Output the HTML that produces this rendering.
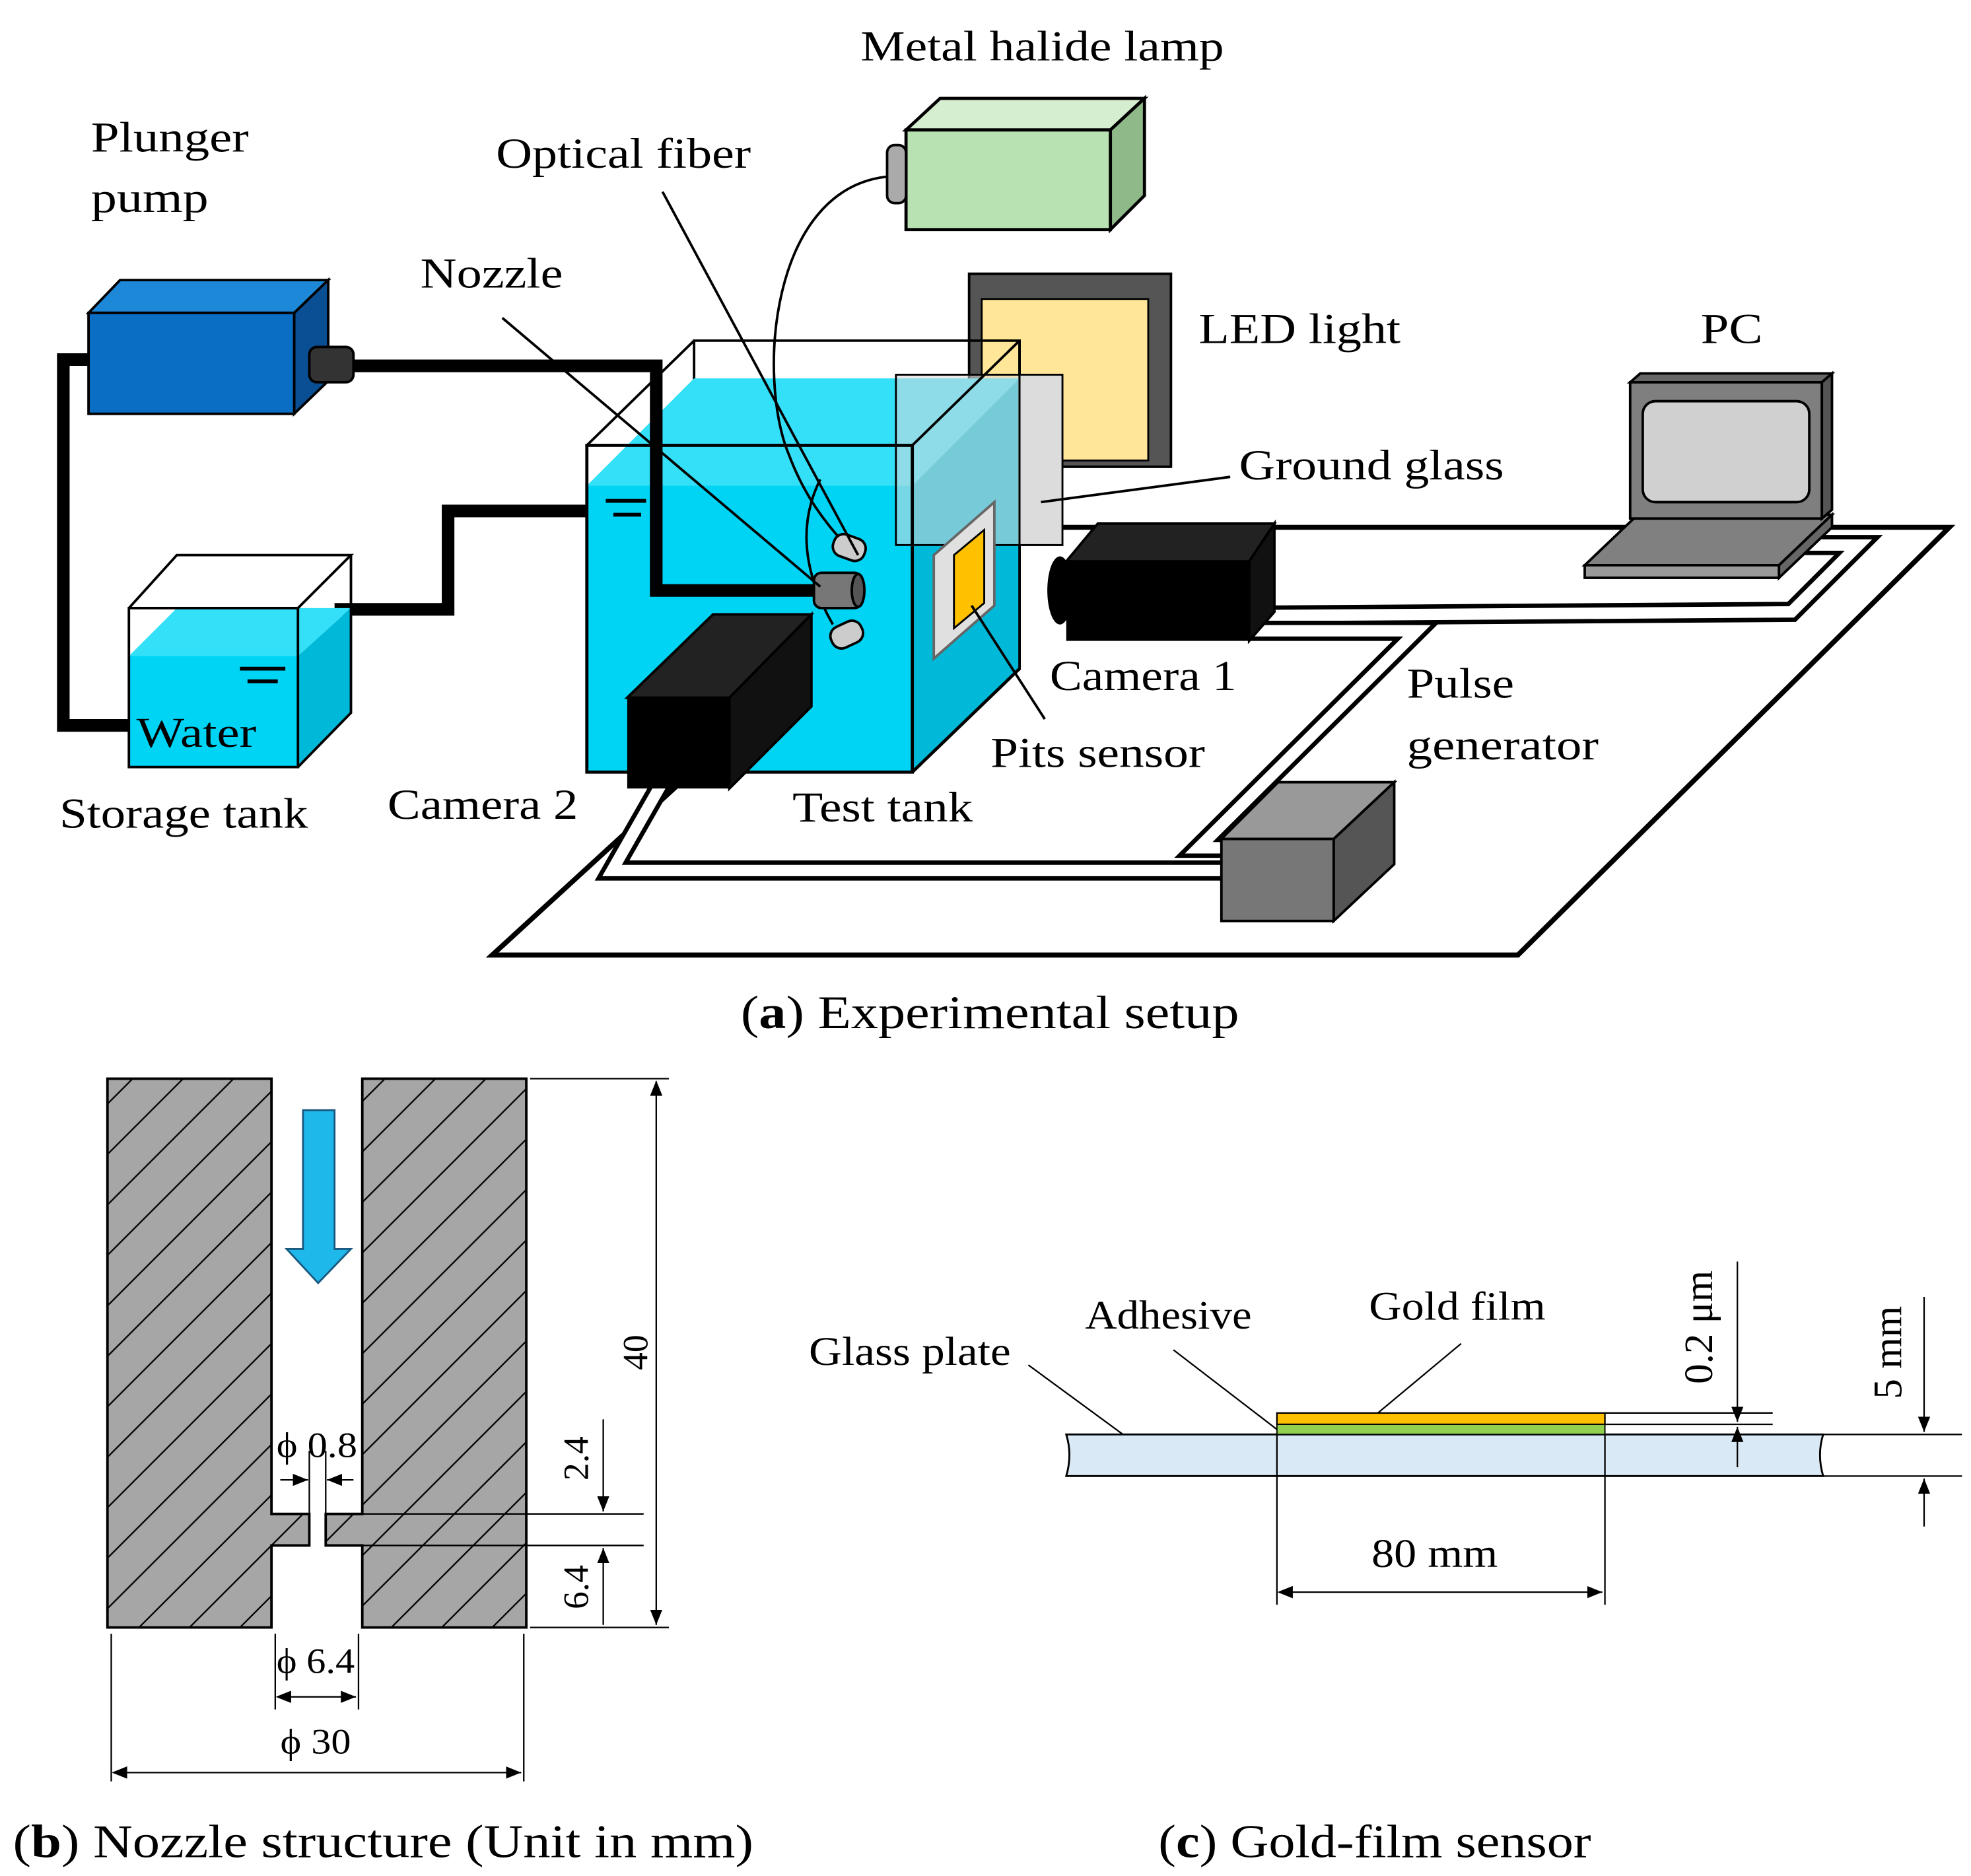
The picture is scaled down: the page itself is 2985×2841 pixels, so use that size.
<!DOCTYPE html>
<html><head><meta charset="utf-8"><style>
html,body{margin:0;padding:0;background:#fff;}
svg{display:block;}
text{font-family:"Liberation Serif",serif;fill:#000;}
</style></head><body>
<svg width="2985" height="2841" viewBox="0 0 1562 1487" xmlns="http://www.w3.org/2000/svg">
<defs>
<pattern id="h" width="40" height="40" patternUnits="userSpaceOnUse">
<rect width="40" height="40" fill="#a6a6a6"/>
<path d="M-10,50 L50,-10 M-10,10 L10,-10 M30,50 L50,30" stroke="#000" stroke-width="1.2"/>
</pattern>
<marker id="ar" markerWidth="10" markerHeight="8" refX="10" refY="4" orient="auto"><path d="M0,0 L10,4 L0,8z" fill="#000"/></marker>
</defs>

<polygon points="390,757 1203,757 1545,418 760,418" fill="#fff" stroke="#000" stroke-width="4"/>
<g fill="none" stroke-linejoin="miter">
<path d="M990,488 L1420,485 L1473,432 L1430,432" stroke="#000" stroke-width="16"/>
<path d="M990,488 L1420,485 L1473,432 L1430,432" stroke="#fff" stroke-width="9"/>
<path d="M990,500 L1123,500 L950,672 L975,672" stroke="#000" stroke-width="16"/>
<path d="M990,500 L1123,500 L950,672 L975,672" stroke="#fff" stroke-width="9"/>
<path d="M525,620 L485,690 L975,690" stroke="#000" stroke-width="16"/>
<path d="M525,620 L485,690 L975,690" stroke="#fff" stroke-width="9"/>
</g>

<!-- PC -->
<polygon points="1256,448 1410,448 1452,408 1298,408" fill="#808080" stroke="#000" stroke-width="2"/>
<rect x="1256" y="448" width="154" height="10" fill="#999" stroke="#000" stroke-width="2"/>
<polygon points="1410,448 1452,408 1452,418 1410,458" fill="#666" stroke="#000" stroke-width="2"/>
<polygon points="1292,303 1300,296 1452,296 1444,303" fill="#666" stroke="#000" stroke-width="2"/>
<rect x="1292" y="303" width="152" height="108" fill="#7f7f7f" stroke="#000" stroke-width="2"/>
<polygon points="1444,303 1452,296 1452,404 1444,411" fill="#555" stroke="#000" stroke-width="2"/>
<rect x="1302" y="318" width="132" height="80" rx="10" fill="#d0d0d0" stroke="#000" stroke-width="2"/>

<!-- Metal halide lamp -->
<polygon points="718,103 745,78 907,78 880,103" fill="#d5eecf" stroke="#000" stroke-width="2.5"/>
<polygon points="880,103 907,78 907,155 880,182" fill="#90b98a" stroke="#000" stroke-width="2.5"/>
<rect x="718" y="103" width="162" height="79" fill="#b9e2b2" stroke="#000" stroke-width="2.5"/>
<rect x="703" y="115" width="15" height="46" rx="6" fill="#aaa" stroke="#000" stroke-width="2"/>

<!-- LED light -->
<rect x="768" y="217" width="160" height="153" fill="#555" stroke="#000" stroke-width="2"/>
<rect x="778" y="237" width="132" height="128" fill="#ffe699" stroke="#000" stroke-width="1.5"/>

<polygon points="550,270 808,270 808,530 550,530" fill="none" stroke="#000" stroke-width="2"/>
<polygon points="465,385 550,300 808,300 808,530 723,612 465,612" fill="#00d4f5"/>
<polygon points="465,385 550,300 808,300 723,385" fill="#33e0f8"/>
<polygon points="723,385 808,300 808,530 723,612" fill="#00b8d8"/>
<line x1="808" y1="270" x2="808" y2="530" stroke="#000" stroke-width="2"/>

<rect x="710" y="297" width="132" height="135" fill="#d9d9d9" fill-opacity="0.55" stroke="#000" stroke-width="1.5"/>
<rect x="808" y="297" width="34" height="135" fill="#dcdcdc" stroke="#000" stroke-width="1.5"/>

<rect x="465" y="353" width="258" height="259" fill="none" stroke="#000" stroke-width="2.5"/>
<line x1="465" y1="353" x2="550" y2="270" stroke="#000" stroke-width="2"/>
<line x1="723" y1="353" x2="808" y2="270" stroke="#000" stroke-width="2"/>
<line x1="723" y1="612" x2="808" y2="530" stroke="#000" stroke-width="2.5"/>
<line x1="480" y1="397" x2="512" y2="397" stroke="#000" stroke-width="3"/>
<line x1="486" y1="408" x2="508" y2="408" stroke="#000" stroke-width="3"/>

<polygon points="740,440 788,398 788,480 740,522" fill="#e0e0e0" stroke="#666" stroke-width="2"/>
<polygon points="756,440 780,420 780,478 756,498" fill="#ffc000" stroke="#000" stroke-width="1.5"/>

<g fill="none" stroke="#000" stroke-width="10">
<path d="M280,290 L520,290 L520,468 L650,468"/>
<path d="M70,285 L50,285 L50,575 L105,575"/>
<path d="M265,483 L355,483 L355,405 L465,405"/>
</g>
<path d="M703,140 C610,150 600,300 625,360 C640,400 660,420 670,432" fill="none" stroke="#000" stroke-width="2"/>
<path d="M650,380 C630,420 640,460 660,495" fill="none" stroke="#000" stroke-width="2"/>
<g stroke="#000" stroke-width="2">
<rect x="660" y="425" width="26" height="18" rx="8" fill="#ccc" transform="rotate(20 673 434)"/>
<rect x="645" y="454" width="38" height="28" rx="6" fill="#777"/>
<ellipse cx="680" cy="468" rx="5" ry="13" fill="#555"/>
<rect x="658" y="494" width="26" height="18" rx="8" fill="#ccc" transform="rotate(-25 671 503)"/>
</g>
<g stroke="#000" stroke-width="2">
<line x1="525" y1="152" x2="680" y2="440"/>
<line x1="398" y1="252" x2="650" y2="465"/>
<line x1="975" y1="378" x2="825" y2="398"/>
<line x1="770" y1="480" x2="828" y2="570"/>
</g>

<!-- Plunger pump -->
<polygon points="70,248 95,222 260,222 233,248" fill="#1e88d8" stroke="#000" stroke-width="2"/>
<polygon points="233,248 260,222 260,302 233,328" fill="#0a4f94" stroke="#000" stroke-width="2"/>
<rect x="70" y="248" width="163" height="80" fill="#0a6fc4" stroke="#000" stroke-width="2"/>
<rect x="245" y="275" width="35" height="28" rx="6" fill="#333" stroke="#000" stroke-width="2"/>

<!-- Storage tank -->
<polygon points="102,520 140,482 278,482 236,520" fill="#33e0f8"/>
<rect x="102" y="520" width="134" height="88" fill="#00d4f5"/>
<polygon points="236,520 278,482 278,565 236,608" fill="#00b8d8"/>
<rect x="102" y="482" width="134" height="126" fill="none" stroke="#000" stroke-width="2"/>
<path d="M102,482 L140,440 L278,440 L236,482 M278,440 L278,565 L236,608" fill="none" stroke="#000" stroke-width="2"/>
<line x1="190" y1="530" x2="226" y2="530" stroke="#000" stroke-width="3"/>
<line x1="196" y1="540" x2="220" y2="540" stroke="#000" stroke-width="3"/>

<!-- Camera 1 -->
<polygon points="845,445 870,415 1010,415 990,445" fill="#222" stroke="#000" stroke-width="2"/>
<polygon points="990,445 1010,415 1010,485 990,508" fill="#111" stroke="#000" stroke-width="2"/>
<rect x="845" y="445" width="145" height="63" fill="#000"/>
<ellipse cx="840" cy="468" rx="10" ry="27" fill="#000"/>

<!-- Camera 2 -->
<polygon points="497,553 565,487 643,487 578,553" fill="#222" stroke="#000" stroke-width="2"/>
<polygon points="578,553 643,487 643,560 578,625" fill="#111" stroke="#000" stroke-width="2"/>
<rect x="497" y="553" width="81" height="72" fill="#000"/>

<!-- Pulse generator -->
<polygon points="968,665 1013,620 1105,620 1057,665" fill="#999" stroke="#000" stroke-width="2"/>
<polygon points="1057,665 1105,620 1105,685 1057,730" fill="#555" stroke="#000" stroke-width="2"/>
<rect x="968" y="665" width="89" height="65" fill="#777" stroke="#000" stroke-width="2"/>

<g font-size="34" lengthAdjust="spacingAndGlyphs">
<text x="682" y="48" textLength="288" lengthAdjust="spacingAndGlyphs">Metal halide lamp</text>
<text x="72" y="120" textLength="125" lengthAdjust="spacingAndGlyphs">Plunger</text>
<text x="72" y="168" textLength="93" lengthAdjust="spacingAndGlyphs">pump</text>
<text x="393" y="133" textLength="202" lengthAdjust="spacingAndGlyphs">Optical fiber</text>
<text x="333" y="228" textLength="113" lengthAdjust="spacingAndGlyphs">Nozzle</text>
<text x="950" y="272" textLength="160" lengthAdjust="spacingAndGlyphs">LED light</text>
<text x="1348" y="272" textLength="49" lengthAdjust="spacingAndGlyphs">PC</text>
<text x="982" y="380" textLength="210" lengthAdjust="spacingAndGlyphs">Ground glass</text>
<text x="108" y="592" textLength="95" lengthAdjust="spacingAndGlyphs">Water</text>
<text x="832" y="547" textLength="148" lengthAdjust="spacingAndGlyphs">Camera 1</text>
<text x="1115" y="553" textLength="85" lengthAdjust="spacingAndGlyphs">Pulse</text>
<text x="1115" y="602" textLength="152" lengthAdjust="spacingAndGlyphs">generator</text>
<text x="785" y="608" textLength="170" lengthAdjust="spacingAndGlyphs">Pits sensor</text>
<text x="47" y="656" textLength="197" lengthAdjust="spacingAndGlyphs">Storage tank</text>
<text x="307" y="649" textLength="151" lengthAdjust="spacingAndGlyphs">Camera 2</text>
<text x="628" y="651" textLength="143" lengthAdjust="spacingAndGlyphs">Test tank</text>
</g>
<text x="587" y="815" font-size="37" textLength="395" lengthAdjust="spacingAndGlyphs">(<tspan font-weight="bold">a</tspan>) Experimental setup</text>

<!-- Part b -->
<path d="M85,855 L215,855 L215,1200 L245,1200 L245,1225 L215,1225 L215,1290 L85,1290 Z" fill="url(#h)" stroke="#000" stroke-width="2"/>
<path d="M287,855 L417,855 L417,1290 L287,1290 L287,1225 L258,1225 L258,1200 L287,1200 Z" fill="url(#h)" stroke="#000" stroke-width="2"/>
<polygon points="240,880 265,880 265,990 278,990 252,1017 227,990 240,990" fill="#1fb8ea" stroke="#1a5a80" stroke-width="1.5"/>
<g stroke="#000" stroke-width="1.2" fill="none">
<line x1="420" y1="855" x2="530" y2="855"/>
<line x1="420" y1="1290" x2="530" y2="1290"/>
<line x1="520" y1="857" x2="520" y2="1288" marker-end="url(#ar)"/>
<path d="M520,858 l-4,10 h8z" fill="#000"/>
<line x1="260" y1="1200" x2="510" y2="1200"/>
<line x1="260" y1="1225" x2="510" y2="1225"/>
<line x1="478" y1="1125" x2="478" y2="1198" marker-end="url(#ar)"/>
<line x1="478" y1="1288" x2="478" y2="1227" marker-end="url(#ar)"/>
<line x1="245" y1="1150" x2="245" y2="1200"/>
<line x1="258" y1="1150" x2="258" y2="1200"/>
<line x1="222" y1="1173" x2="244" y2="1173" marker-end="url(#ar)"/>
<line x1="280" y1="1173" x2="259" y2="1173" marker-end="url(#ar)"/>
<line x1="218" y1="1295" x2="218" y2="1355"/>
<line x1="284" y1="1295" x2="284" y2="1355"/>
<line x1="220" y1="1345" x2="282" y2="1345" marker-end="url(#ar)"/>
<path d="M220,1345 l10,-4 v8z" fill="#000"/>
<line x1="88" y1="1295" x2="88" y2="1412"/>
<line x1="415" y1="1295" x2="415" y2="1412"/>
<line x1="90" y1="1405" x2="413" y2="1405" marker-end="url(#ar)"/>
<path d="M90,1405 l10,-4 v8z" fill="#000"/>
</g>
<g font-size="28">
<text x="219" y="1155" textLength="64" lengthAdjust="spacingAndGlyphs">ϕ 0.8</text>
<text x="219" y="1326" textLength="62" lengthAdjust="spacingAndGlyphs">ϕ 6.4</text>
<text x="222" y="1390" textLength="56" lengthAdjust="spacingAndGlyphs">ϕ 30</text>
<text transform="translate(513,1072) rotate(-90)" text-anchor="middle">40</text>
<text transform="translate(466,1156) rotate(-90)" text-anchor="middle">2.4</text>
<text transform="translate(466,1258) rotate(-90)" text-anchor="middle">6.4</text>
</g>
<text x="10" y="1472" font-size="37" textLength="587" lengthAdjust="spacingAndGlyphs">(<tspan font-weight="bold">b</tspan>) Nozzle structure (Unit in mm)</text>

<!-- Part c -->
<path d="M845,1137 L1445,1137 Q1440,1153 1445,1170 L845,1170 Q850,1153 845,1137Z" fill="#dae9f6" stroke="#000" stroke-width="1.5"/>
<rect x="1012" y="1120" width="260" height="9" fill="#ffc000" stroke="#000" stroke-width="1.2"/>
<rect x="1012" y="1129" width="260" height="8" fill="#92d050" stroke="#000" stroke-width="1"/>
<g stroke="#000" stroke-width="1.2" fill="none">
<line x1="815" y1="1082" x2="890" y2="1137"/>
<line x1="930" y1="1070" x2="1012" y2="1133"/>
<line x1="1158" y1="1065" x2="1092" y2="1120"/>
<line x1="1272" y1="1120" x2="1405" y2="1120"/>
<line x1="1272" y1="1129" x2="1405" y2="1129"/>
<line x1="1272" y1="1137" x2="1405" y2="1137"/>
<line x1="1445" y1="1137" x2="1555" y2="1137"/>
<line x1="1445" y1="1170" x2="1555" y2="1170"/>
<line x1="1377" y1="1000" x2="1377" y2="1127" marker-end="url(#ar)"/>
<line x1="1377" y1="1163" x2="1377" y2="1131" marker-end="url(#ar)"/>
<line x1="1525" y1="1028" x2="1525" y2="1135" marker-end="url(#ar)"/>
<line x1="1525" y1="1210" x2="1525" y2="1172" marker-end="url(#ar)"/>
<line x1="1012" y1="1137" x2="1012" y2="1272"/>
<line x1="1272" y1="1137" x2="1272" y2="1272"/>
<line x1="1014" y1="1262" x2="1270" y2="1262" marker-end="url(#ar)"/>
<path d="M1014,1262 l10,-4 v8z" fill="#000"/>
</g>
<g font-size="32">
<text x="641" y="1082" textLength="160" lengthAdjust="spacingAndGlyphs">Glass plate</text>
<text x="860" y="1053" textLength="132" lengthAdjust="spacingAndGlyphs">Adhesive</text>
<text x="1085" y="1046" textLength="140" lengthAdjust="spacingAndGlyphs">Gold film</text>
<text x="1087" y="1242" textLength="100" lengthAdjust="spacingAndGlyphs">80 mm</text>
<text transform="translate(1357,1052) rotate(-90)" text-anchor="middle">0.2 μm</text>
<text transform="translate(1507,1072) rotate(-90)" text-anchor="middle">5 mm</text>
</g>
<text x="918" y="1472" font-size="37" textLength="343" lengthAdjust="spacingAndGlyphs">(<tspan font-weight="bold">c</tspan>) Gold-film sensor</text>
</svg>
</body></html>
